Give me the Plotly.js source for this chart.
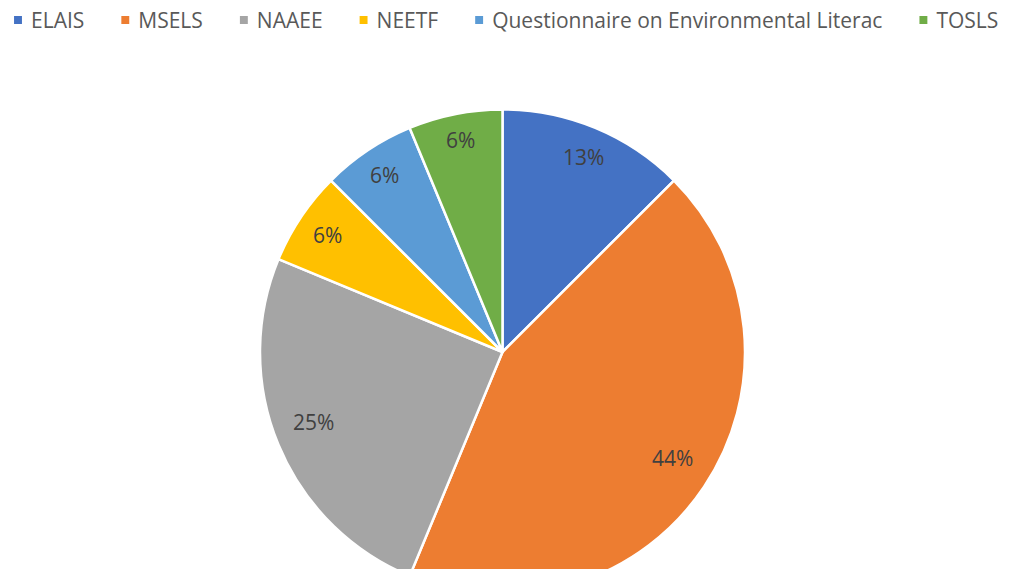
<!DOCTYPE html>
<html>
<head>
<meta charset="utf-8">
<script src="https://cdn.plot.ly/plotly-3.0.1.min.js"></script>
<style>
html,body{margin:0;padding:0;overflow:hidden;background:#fff;}
#chart{width:1019px;height:700px;}
</style>
</head>
<body>
<div id="chart"></div>
<script>
const categories = ["ELAIS", "MSELS", "NAAEE", "NEETF", "Questionnaire on Environmental Literac", "TOSLS"];
const counts = [2, 7, 4, 1, 1, 1];
const colors = ["#4472C4", "#ED7D31", "#A5A5A5", "#FFC000", "#5B9BD5", "#70AD47"];

const W = 1019, H = 700;
const cx = 502.5, cy = 352, R = 242.5;
const FONT = "Open Sans";

const trace = {
  type: "pie",
  labels: categories,
  values: counts,
  sort: false,
  direction: "clockwise",
  rotation: 0,
  marker: {colors: colors, line: {color: "#ffffff", width: 2.5}},
  textinfo: "none",
  hoverinfo: "label+percent",
  domain: {x: [(cx - R) / W, (cx + R) / W], y: [(H - cy - R) / H, (H - cy + R) / H]}
};

// percentage labels placed near the outer edge of each slice (Excel "best fit" look)
const total = counts.reduce((a, b) => a + b, 0);
const annotations = [];
let acc = 0;
counts.forEach((v, i) => {
  const frac = v / total;
  const mid = (acc + frac / 2) * 2 * Math.PI;
  acc += frac;
  const txt = Math.round(frac * 100) + "%";
  const hw = 7 * txt.length, hh = 8;
  const s = Math.sin(mid), c = Math.cos(mid);
  const r = 0.935 * R - (hw * Math.abs(s) + hh * Math.abs(c));
  const px = cx + r * s, py = cy - r * c - (frac > 0.2 ? 8 : 0);
  annotations.push({
    xref: "paper", yref: "paper", x: px / W, y: (H - py) / H,
    xanchor: "center", yanchor: "middle", showarrow: false,
    text: txt, font: {family: FONT, size: 21, color: "#404040"}
  });
});

const layout = {
  width: W, height: H,
  margin: {l: 0, r: 0, t: 0, b: 0},
  paper_bgcolor: "#ffffff",
  showlegend: true,
  annotations: annotations,
  legend: {
    orientation: "h", x: 0.0, xanchor: "left", y: 1, yanchor: "top",
    font: {family: FONT, size: 21, color: "#595959"},
    itemwidth: 30
  }
};

function restyleLegend() {
  const sb = document.querySelector(".legend .scrollbox");
  if (sb) sb.removeAttribute("clip-path");
  const items = document.querySelectorAll(".legend .traces");
  let x0 = 13;
  const yc = 20, sq = 10;
  items.forEach(g => {
    const pm = g.parentNode.getCTM();
    g.setAttribute("transform", "translate(" + (x0 - pm.e) + "," + (yc - pm.f) + ")");
    g.querySelectorAll("path.legendpie").forEach(p => {
      p.setAttribute("transform", "translate(" + (sq / 2) + ",0) scale(" + (sq / 12) + ")");
    });
    const t = g.querySelector("text.legendtext");
    t.setAttribute("x", 18);
    t.querySelectorAll("tspan").forEach(ts => { if (ts.hasAttribute("x")) ts.setAttribute("x", 18); });
    const w = t.getComputedTextLength();
    x0 += 18 + w + 36;
  });
}

Plotly.newPlot("chart", [trace], layout, {displayModeBar: false, staticPlot: true}).then(restyleLegend);
</script>
</body>
</html>
